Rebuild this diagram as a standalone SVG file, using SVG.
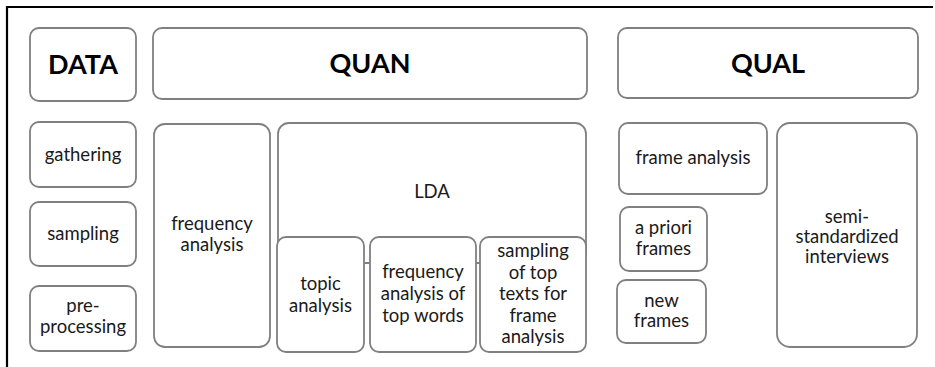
<svg xmlns="http://www.w3.org/2000/svg" width="935" height="367" viewBox="0 0 935 367">
<style>
.b{fill:#fff;stroke:#808080;stroke-width:1.8}
.t{font-family:Lato,"Liberation Sans",sans-serif;font-size:18.5px;fill:#1a1a1a;text-anchor:middle}
.h{font-family:Lato,"Liberation Sans",sans-serif;font-size:27px;font-weight:bold;fill:#000;text-anchor:middle}
</style>
<rect width="935" height="367" fill="#fff"/>
<g id="frame-lines"><path d="M7 367V7H933" fill="none" stroke="#000" stroke-width="2.2"/></g>
<g id="connectors"></g>
<g id="data"><rect class="b" x="30" y="28" width="106" height="73" rx="9"/><text class="h" x="83" y="74">DATA</text></g>
<g id="quan"><rect class="b" x="153" y="28" width="434" height="71" rx="9"/><text class="h" x="370" y="73">QUAN</text></g>
<g id="qual"><rect class="b" x="618" y="28" width="300" height="70" rx="9"/><text class="h" x="768" y="73">QUAL</text></g>
<g id="gathering"><rect class="b" x="30" y="122" width="106" height="65" rx="9"/><text class="t" x="83" y="161">gathering</text></g>
<g id="sampling"><rect class="b" x="30" y="202" width="106" height="64" rx="9"/><text class="t" x="83" y="240">sampling</text></g>
<g id="preprocessing"><rect class="b" x="30" y="286" width="106" height="65" rx="9"/><text class="t" x="83" y="312">pre-</text><text class="t" x="83" y="333">processing</text></g>
<g id="frequency-analysis"><rect class="b" x="154" y="124" width="116" height="223" rx="11"/><text class="t" x="212" y="230">frequency</text><text class="t" x="212" y="251">analysis</text></g>
<g id="lda"><rect class="b" x="278" y="123" width="308" height="140" rx="11"/><text class="t" x="432" y="198">LDA</text></g>
<g id="topic-analysis"><rect class="b" x="277" y="237" width="87" height="115" rx="9"/><text class="t" x="320.5" y="290">topic</text><text class="t" x="320.5" y="312">analysis</text></g>
<g id="freq-top-words"><rect class="b" x="370" y="237" width="106" height="115" rx="9"/><text class="t" x="423" y="278">frequency</text><text class="t" x="423" y="300">analysis of</text><text class="t" x="423" y="322">top words</text></g>
<g id="sampling-top-texts"><rect class="b" x="480" y="237" width="106" height="115" rx="9"/><text class="t" x="533" y="257">sampling</text><text class="t" x="533" y="278.5">of top</text><text class="t" x="533" y="300">texts for</text><text class="t" x="533" y="321.5">frame</text><text class="t" x="533" y="343">analysis</text></g>
<g id="frame-analysis"><rect class="b" x="619" y="123" width="148" height="71" rx="9"/><text class="t" x="693" y="164">frame analysis</text></g>
<g id="a-priori-frames"><rect class="b" x="620" y="207" width="87" height="64" rx="9"/><text class="t" x="663.5" y="234">a priori</text><text class="t" x="663.5" y="255">frames</text></g>
<g id="new-frames"><rect class="b" x="617" y="280" width="89" height="63" rx="9"/><text class="t" x="661.5" y="307">new</text><text class="t" x="661.5" y="327">frames</text></g>
<g id="interviews"><rect class="b" x="777" y="123" width="140" height="224" rx="13"/><text class="t" x="847" y="223">semi-</text><text class="t" x="847" y="243">standardized</text><text class="t" x="847" y="263">interviews</text></g>
</svg>
